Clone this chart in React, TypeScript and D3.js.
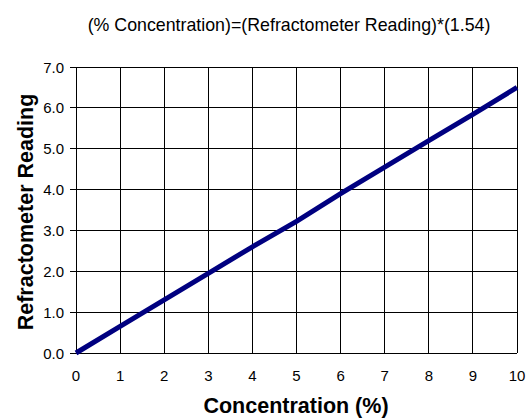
import React, { useEffect, useRef } from 'react';
import * as d3 from 'd3';

const concentration = [0, 1, 2, 3, 4, 5, 6, 7, 8, 9, 10];
const reading = [0, 0.65, 1.3, 1.95, 2.6, 3.22, 3.9, 4.55, 5.2, 5.84, 6.5];
const xTicks = [0, 1, 2, 3, 4, 5, 6, 7, 8, 9, 10];
const yTicks = [0, 1, 2, 3, 4, 5, 6, 7];

const W = 528, H = 420;
const margin = { top: 67, right: 11, bottom: 67, left: 76 };

function App() {
  const ref = useRef<SVGSVGElement>(null);

  useEffect(() => {
    const svg = d3.select(ref.current);
    svg.selectAll('*').remove();
    const font = 'Liberation Sans, Arial, sans-serif';

    const x = d3.scaleLinear().domain([0, 10]).range([margin.left, W - margin.right]);
    const y = d3.scaleLinear().domain([0, 7]).range([H - margin.bottom, margin.top]);

    svg.append('text')
      .attr('x', 289).attr('y', 31)
      .attr('text-anchor', 'middle')
      .attr('font-family', font).attr('font-size', 17.8)
      .text('(% Concentration)=(Refractometer Reading)*(1.54)');

    const grid = svg.append('g').attr('stroke', '#000').attr('stroke-width', 1).attr('shape-rendering', 'crispEdges');
    grid.selectAll('line.v').data(xTicks).join('line')
      .attr('x1', d => x(d)).attr('x2', d => x(d))
      .attr('y1', y(0)).attr('y2', y(7));
    grid.selectAll('line.h').data(yTicks).join('line')
      .attr('x1', x(0) - 6).attr('x2', x(10))
      .attr('y1', d => y(d)).attr('y2', d => y(d));

    svg.append('g')
      .attr('font-family', font).attr('font-size', 15).attr('text-anchor', 'end')
      .selectAll('text').data(yTicks).join('text')
      .attr('x', x(0) - 12).attr('y', d => y(d) + 5.5)
      .text(d => d.toFixed(1));

    svg.append('g')
      .attr('font-family', font).attr('font-size', 15).attr('text-anchor', 'middle')
      .selectAll('text').data(xTicks).join('text')
      .attr('x', d => x(d)).attr('y', y(0) + 28)
      .text(d => d);

    const line = d3.line<number>()
      .x((_, i) => x(concentration[i]))
      .y(d => y(d));
    svg.append('path')
      .datum(reading)
      .attr('fill', 'none')
      .attr('stroke', '#000080')
      .attr('stroke-width', 5)
      .attr('d', line);

    svg.append('text')
      .attr('x', 296).attr('y', 413)
      .attr('text-anchor', 'middle')
      .attr('font-family', font).attr('font-size', 21.5).attr('font-weight', 'bold')
      .text('Concentration (%)');

    svg.append('text')
      .attr('transform', `translate(33, 212) rotate(-90)`)
      .attr('text-anchor', 'middle')
      .attr('font-family', font).attr('font-size', 21.5).attr('font-weight', 'bold')
      .text('Refractometer Reading');
  }, []);

  return <svg ref={ref} width={W} height={H} style={{ position: 'absolute', left: 0, top: 0 }} />;
}

export default App;
